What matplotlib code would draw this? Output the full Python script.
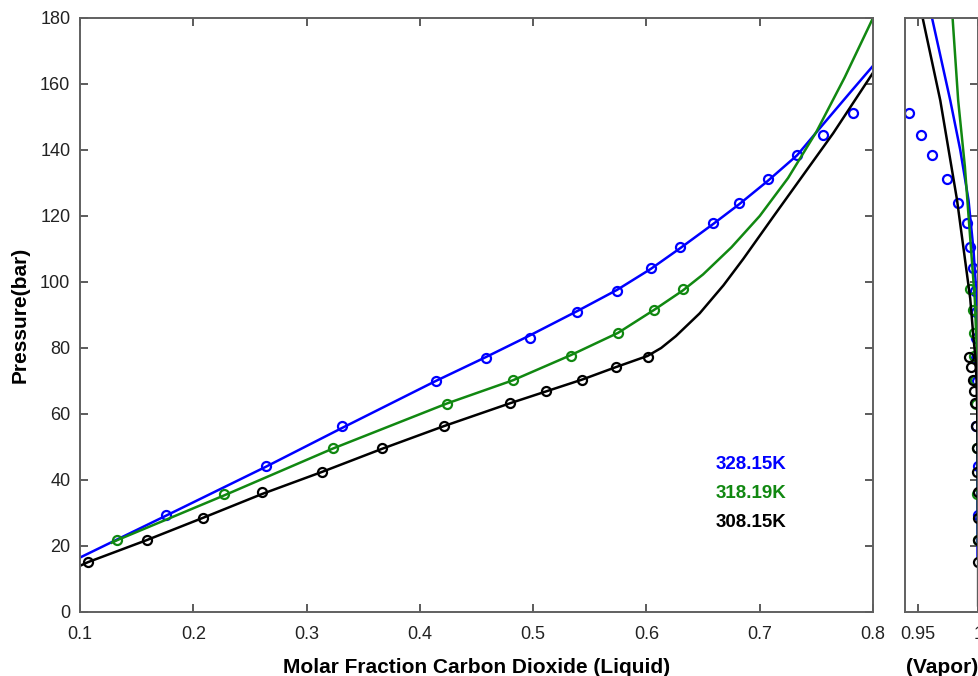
import numpy as np
import matplotlib.pyplot as plt

plt.rcParams['font.family'] = ['Liberation Sans', 'DejaVu Sans']

# ---- experimental points (liquid side) ----
x_liq_328 = [0.176, 0.264, 0.3315, 0.414, 0.458, 0.497, 0.539, 0.574, 0.604,
             0.630, 0.659, 0.682, 0.707, 0.733, 0.756, 0.782]
p_328 = [29.4, 44.2, 56.4, 70.0, 76.9, 82.9, 91.0, 97.4, 104.3,
         110.7, 117.8, 124.0, 131.2, 138.4, 144.5, 151.1]

x_liq_318 = [0.133, 0.227, 0.323, 0.424, 0.482, 0.533, 0.575, 0.607, 0.632]
p_318 = [21.8, 35.7, 49.7, 63.0, 70.3, 77.6, 84.4, 91.5, 97.8]

x_liq_308 = [0.107, 0.159, 0.209, 0.261, 0.314, 0.367, 0.421, 0.480, 0.511,
             0.543, 0.573, 0.601]
p_308 = [15.1, 21.8, 28.4, 36.4, 42.5, 49.7, 56.5, 63.4, 66.9, 70.3, 74.1, 77.4]

# ---- experimental points (vapor side), same pressures ----
y_vap_328 = [0.9992, 0.9992, 0.9981, 0.9985, 0.9980, 0.9980, 0.9980, 0.9975, 0.9954,
             0.9934, 0.9905, 0.9834, 0.9741, 0.9621, 0.9528, 0.9426]
y_vap_318 = [0.9993, 0.9990, 0.9985, 0.9978, 0.9970, 0.9966, 0.9962, 0.9955, 0.9930]
y_vap_308 = [0.9996, 0.9995, 0.9994, 0.9992, 0.9990, 0.9985, 0.9978, 0.9968, 0.9960,
             0.9953, 0.9942, 0.9924]

# ---- model curves (liquid) ----
xm_liq_328 = [0.1, 0.176, 0.264, 0.3315, 0.414, 0.458, 0.497, 0.539, 0.574, 0.604,
              0.630, 0.659, 0.682, 0.707, 0.733, 0.756, 0.78, 0.8]
pm_liq_328 = [16.5, 29.2, 44.0, 55.8, 70.0, 77.2, 83.8, 91.2, 97.6, 104.0,
              110.3, 117.6, 123.6, 130.6, 138.4, 147.8, 157.5, 165.5]

xm_liq_318 = [0.128, 0.133, 0.227, 0.323, 0.424, 0.482, 0.533, 0.575, 0.607, 0.632,
              0.65, 0.675, 0.7, 0.725, 0.75, 0.775, 0.8]
pm_liq_318 = [21.0, 21.8, 35.3, 49.5, 63.2, 70.2, 77.8, 84.6, 91.6, 97.4,
              102.3, 110.5, 120.0, 131.5, 145.5, 162.0, 180.0]

xm_liq_308 = [0.1, 0.107, 0.159, 0.209, 0.261, 0.314, 0.367, 0.421, 0.480, 0.511,
              0.543, 0.573, 0.601, 0.613, 0.626, 0.647, 0.668, 0.6855, 0.712,
              0.7649, 0.8]
pm_liq_308 = [14.0, 15.1, 21.8, 28.6, 35.8, 42.5, 49.5, 56.3, 63.3, 66.8,
              70.4, 74.2, 77.6, 80.0, 83.6, 90.5, 99.0, 107.0, 119.8,
              145.1, 163.4]

# ---- model curves (vapor) ----
ym_vap_328 = [0.9618, 0.9768, 0.9850, 0.9918, 0.9959, 0.9986, 0.9992, 0.9992, 0.9992]
pm_vap_328 = [180, 155, 140, 124.8, 109.7, 94.5, 80, 50, 16.5]

ym_vap_318 = [0.9787, 0.9833, 0.9888, 0.9929, 0.9970, 0.9990, 0.9994, 0.9995]
pm_vap_318 = [180, 155, 135, 114.7, 94.5, 75, 50, 21.0]

ym_vap_308 = [0.9541, 0.9686, 0.9823, 0.9932, 0.9959, 0.9975, 0.9984, 0.9990,
              0.9993, 0.9995, 0.9996, 0.9997, 0.9997]
pm_vap_308 = [180, 155, 125, 95, 83, 77, 70, 60, 50, 40, 30, 20, 2]

labels = ['328.15K', '318.19K', '308.15K']
colors = ['#0000ff', '#118811', '#000000']

fig = plt.figure(figsize=(9.79, 6.76), dpi=100)
ax = fig.add_axes([80 / 979, 64 / 676, 793 / 979, 594 / 676])
ax2 = fig.add_axes([905.5 / 979, 64 / 676, 73 / 979, 594 / 676])

liq_pts = [(x_liq_328, p_328), (x_liq_318, p_318), (x_liq_308, p_308)]
vap_pts = [(y_vap_328, p_328), (y_vap_318, p_318), (y_vap_308, p_308)]
liq_lines = [(xm_liq_328, pm_liq_328), (xm_liq_318, pm_liq_318), (xm_liq_308, pm_liq_308)]
vap_lines = [(ym_vap_328, pm_vap_328), (ym_vap_318, pm_vap_318), (ym_vap_308, pm_vap_308)]

for i in range(3):
    c = colors[i]
    ax.plot(liq_lines[i][0], liq_lines[i][1], '-', color=c, lw=1.8)
    ax.plot(liq_pts[i][0], liq_pts[i][1], 'o', mfc='none', mec=c, mew=1.6, ms=6.5)
    ax2.plot(vap_lines[i][0], vap_lines[i][1], '-', color=c, lw=1.8)
    ax2.plot(vap_pts[i][0], vap_pts[i][1], 'o', mfc='none', mec=c, mew=1.6, ms=6.5)

for a in (ax, ax2):
    a.set_ylim(0, 180)
    for s in a.spines.values():
        s.set_color('#606060')
        s.set_linewidth(1.4)
    a.tick_params(direction='in', length=6, width=1.2, color='#404040',
                  labelsize=13, labelcolor='#222222', top=True, right=True, pad=7)
    a.tick_params(axis='x', pad=10)

ax.set_xlim(0.1, 0.8)
ax.set_xticks(np.arange(0.1, 0.81, 0.1))
ax.set_xticklabels(['0.1', '0.2', '0.3', '0.4', '0.5', '0.6', '0.7', '0.8'])
ax.set_yticks(np.arange(0, 181, 20))
ax.set_xlabel('Molar Fraction Carbon Dioxide (Liquid)', fontsize=15,
              fontweight='bold', labelpad=11)
ax.set_ylabel('Pressure(bar)', fontsize=15, fontweight='bold')
ax.yaxis.set_label_coords(-0.063, 0.5)

ax2.set_xlim(0.94, 1.0)
ax2.set_xticks([0.95, 1.0])
ax2.set_xticklabels(['0.95', '1'])
ax2.set_yticks(np.arange(0, 181, 20))
ax2.tick_params(axis='y', left=False, labelleft=False)
ax2.set_xlabel('(Vapor)', fontsize=15, fontweight='bold', labelpad=11)

for i, lab in enumerate(labels):
    ax.text(0.802, 0.249 - i * 0.0495, lab, transform=ax.transAxes, color=colors[i],
            fontsize=13.5, fontweight='bold', va='center', ha='left')

fig.savefig('out.png', dpi=100)
